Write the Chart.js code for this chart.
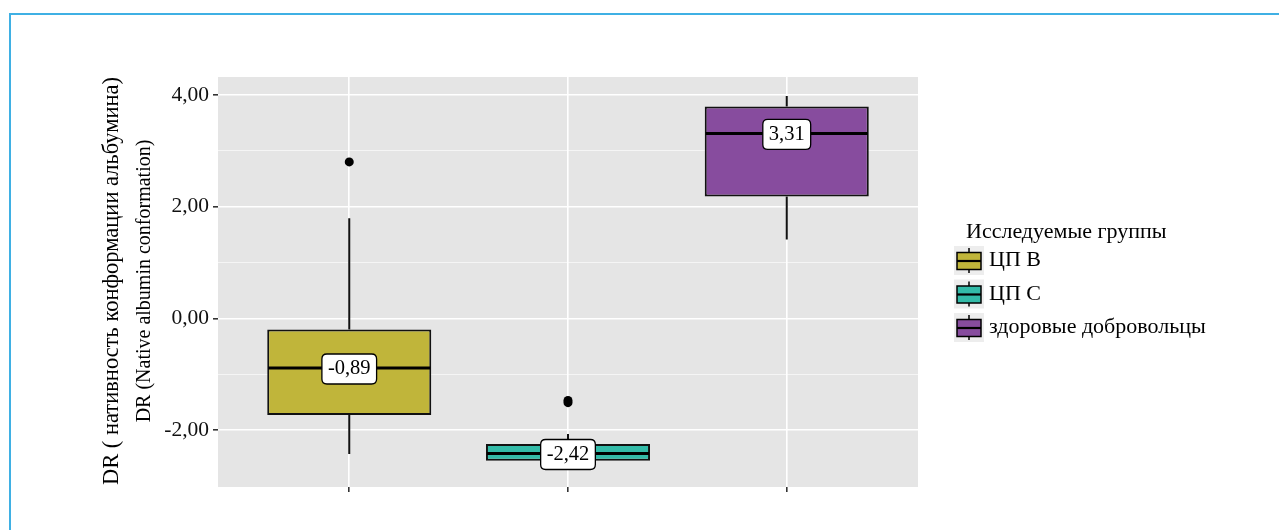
<!DOCTYPE html>
<html>
<head>
<meta charset="utf-8">
<script src="https://cdn.jsdelivr.net/npm/chart.js@4.4.1/dist/chart.umd.min.js"></script>
<style>
  html, body { margin: 0; padding: 0; background: #fff; }
  #wrap { position: relative; width: 1279px; height: 530px; overflow: hidden; }
  #frame { position: absolute; left: 9px; top: 13px; width: 1300px; height: 600px; border-top: 2px solid #3fb0e4; border-left: 2px solid #3fb0e4; }
  #grafica { position: absolute; left: 0; top: 0; }
</style>
</head>
<body>
<div id="wrap">
  <div id="frame"></div>
  <canvas id="grafica" width="1279" height="530"></canvas>
</div>
<script>
// datos
const groups = ['ЦП B', 'ЦП C', 'здоровые добровольцы'];
const positions = [1, 2, 3];
const lowerWhisker = [-2.43, -2.55, 1.41];
const q1 = [-1.73, -2.55, 2.18];
const median = [-0.89, -2.42, 3.31];
const q3 = [-0.20, -2.25, 3.79];
const upperWhisker = [1.79, -2.07, 3.98];
const outliers = [[2.80], [-1.47, -1.51], []];
const yTicks = [-2, -1, 0, 1, 2, 3, 4];
const yTitle = ['DR ( нативность конформации альбумина)', 'DR (Native albumin conformation)'];
const legendTitle = 'Исследуемые группы';
const colors = ['#c0b53a', '#33bba8', '#874c9e'];

const fmt = v => v.toFixed(2).replace('.', ',');
const serif = '"Liberation Serif", "DejaVu Serif", serif';

Chart.defaults.font.family = serif;

const roundBox = (ctx, x, y, w, h, r) => {
    ctx.beginPath();
    ctx.moveTo(x + r, y);
    ctx.lineTo(x + w - r, y);
    ctx.quadraticCurveTo(x + w, y, x + w, y + r);
    ctx.lineTo(x + w, y + h - r);
    ctx.quadraticCurveTo(x + w, y + h, x + w - r, y + h);
    ctx.lineTo(x + r, y + h);
    ctx.quadraticCurveTo(x, y + h, x, y + h - r);
    ctx.lineTo(x, y + r);
    ctx.quadraticCurveTo(x, y, x + r, y);
    ctx.closePath();
};

const boxExtras = {
    id: 'boxExtras',
    beforeDraw(chart) {
        const { ctx, chartArea: a } = chart;
        ctx.save();
        ctx.fillStyle = '#e5e5e5';
        ctx.fillRect(a.left, a.top, a.right - a.left, a.bottom - a.top);
        ctx.restore();
    },
    beforeDatasetsDraw(chart) {
        const { ctx, scales: { x, y } } = chart;
        ctx.save();
        ctx.strokeStyle = '#111';
        ctx.lineWidth = 2;
        positions.forEach((p, i) => {
            const px = x.getPixelForValue(p);
            ctx.beginPath();
            ctx.moveTo(px, y.getPixelForValue(upperWhisker[i]));
            ctx.lineTo(px, y.getPixelForValue(q3[i]));
            ctx.moveTo(px, y.getPixelForValue(q1[i]));
            ctx.lineTo(px, y.getPixelForValue(lowerWhisker[i]));
            ctx.stroke();
        });
        ctx.restore();
    },
    afterDatasetsDraw(chart) {
        const { ctx, scales: { y } } = chart;
        const meta = chart.getDatasetMeta(0);
        ctx.save();
        meta.data.forEach((bar, i) => {
            const half = bar.width / 2;
            const py = y.getPixelForValue(median[i]);
            ctx.strokeStyle = '#000';
            ctx.lineWidth = 3;
            ctx.beginPath();
            ctx.moveTo(bar.x - half + 1, py);
            ctx.lineTo(bar.x + half - 1, py);
            ctx.stroke();

            // etiqueta de la mediana
            const text = fmt(median[i]);
            ctx.font = '20.5px ' + serif;
            const w = ctx.measureText(text).width + 12;
            const h = 30;
            roundBox(ctx, bar.x - w / 2, py - h / 2 + 1, w, h, 5);
            ctx.fillStyle = '#fff';
            ctx.fill();
            ctx.lineWidth = 1.3;
            ctx.strokeStyle = '#000';
            ctx.stroke();
            ctx.fillStyle = '#000';
            ctx.textAlign = 'center';
            ctx.textBaseline = 'middle';
            ctx.fillText(text, bar.x, py + 1);
        });
        ctx.restore();
    },
    afterDraw(chart) {
        const { ctx } = chart;
        ctx.save();
        // titulo del eje y (dos lineas)
        ctx.fillStyle = '#000';
        ctx.textAlign = 'center';
        ctx.textBaseline = 'middle';
        ctx.translate(112, 281);
        ctx.rotate(-Math.PI / 2);
        ctx.font = '22.5px ' + serif;
        ctx.fillText(yTitle[0], 0, 0);
        ctx.font = '20px ' + serif;
        ctx.fillText(yTitle[1], 0, 33);
        ctx.restore();

        // leyenda
        ctx.save();
        ctx.fillStyle = '#000';
        ctx.textAlign = 'left';
        ctx.textBaseline = 'middle';
        ctx.font = '22px ' + serif;
        ctx.fillText(legendTitle, 966, 232);
        groups.forEach((g, i) => {
            const top = 246 + i * 33.5;
            ctx.fillStyle = '#ededed';
            ctx.fillRect(954, top, 30, 29);
            ctx.strokeStyle = '#000';
            ctx.lineWidth = 1.5;
            ctx.beginPath();
            ctx.moveTo(969, top + 2);
            ctx.lineTo(969, top + 27);
            ctx.stroke();
            ctx.fillStyle = colors[i];
            ctx.fillRect(957, top + 6.5, 24, 17);
            ctx.strokeRect(957, top + 6.5, 24, 17);
            ctx.lineWidth = 2.2;
            ctx.beginPath();
            ctx.moveTo(957, top + 15);
            ctx.lineTo(981, top + 15);
            ctx.stroke();
            ctx.fillStyle = '#000';
            ctx.fillText(g, 989, top + 14.5);
        });
        ctx.restore();
    }
};

const isMajor = c => c.tick && c.tick.value % 2 === 0;

new Chart(document.getElementById('grafica'), {
    type: 'bar',
    data: {
        datasets: [
            {
                type: 'bar',
                data: positions.map((p, i) => ({ x: p, y: [q1[i], q3[i]] })),
                backgroundColor: colors,
                borderColor: '#111',
                borderWidth: 2,
                borderSkipped: false,
                barPercentage: 0.75,
                categoryPercentage: 1,
                order: 2
            },
            {
                type: 'scatter',
                data: outliers.flatMap((arr, i) => arr.map(v => ({ x: positions[i], y: v }))),
                pointRadius: 4.5,
                backgroundColor: '#000',
                borderWidth: 0,
                order: 1
            }
        ]
    },
    options: {
        responsive: false,
        animation: false,
        devicePixelRatio: 1,
        layout: { padding: { left: 0, top: 77, right: 361, bottom: 38 } },
        plugins: {
            legend: { display: false },
            tooltip: { enabled: false }
        },
        scales: {
            x: {
                type: 'linear',
                offset: false,
                min: 0.4,
                max: 3.6,
                afterBuildTicks: s => { s.ticks = positions.map(v => ({ value: v })); },
                afterFit: s => { s.height = 5; },
                grid: { offset: false, color: '#fff', lineWidth: 1.6, tickColor: '#333', tickLength: 5 },
                border: { display: false },
                ticks: { display: false }
            },
            y: {
                type: 'linear',
                min: -3.02,
                max: 4.32,
                afterBuildTicks: s => { s.ticks = yTicks.map(v => ({ value: v })); },
                afterFit: s => { s.width = 218; },
                grid: {
                    color: c => isMajor(c) ? '#ffffff' : 'rgba(255,255,255,0.75)',
                    lineWidth: c => isMajor(c) ? 1.6 : 0.8,
                    tickColor: c => isMajor(c) ? '#333' : 'rgba(0,0,0,0)',
                    tickLength: 5
                },
                border: { display: false },
                ticks: {
                    callback: v => v % 2 === 0 ? fmt(v) : '',
                    font: { size: 21.5 },
                    color: '#111',
                    padding: 4
                }
            }
        }
    },
    plugins: [boxExtras]
});
</script>
</body>
</html>
